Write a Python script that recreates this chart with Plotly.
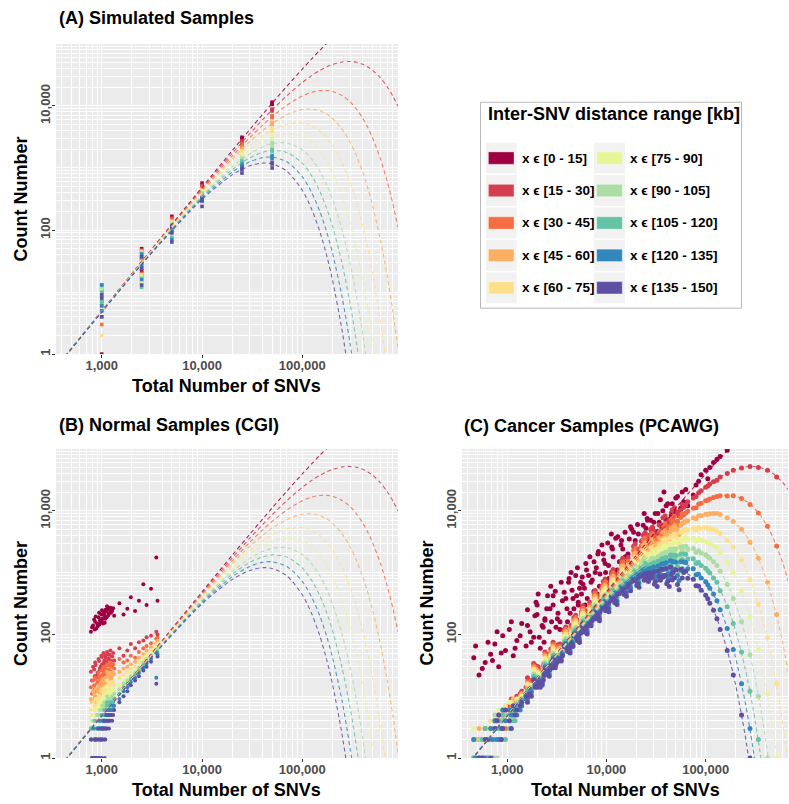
import plotly.graph_objects as go

# ---------------- data ----------------
range_labels = ["0 - 15", "15 - 30", "30 - 45", "45 - 60", "60 - 75",
                "75 - 90", "90 - 105", "105 - 120", "120 - 135", "135 - 150"]
colors = ["#9E0142", "#D53E4F", "#F46D43", "#FDAE61", "#FEE08B",
          "#E6F598", "#ABDDA4", "#66C2A5", "#3288BD", "#5E4FA2"]

x_tick_vals = [1000, 10000, 100000]
x_tick_text = ["1,000", "10,000", "100,000"]
y_tick_vals = [1, 100, 10000]
y_tick_text = ["1", "100", "10,000"]

# expected-count dashed curves
curve_snvs = [350, 1000, 3000, 10000, 20000, 30000, 40000, 50000, 70000, 100000,
              125000, 150000, 175000, 200000, 250000, 300000, 350000, 400000,
              450000, 500000, 600000, 700000, 800000, 900000]
curve_counts = [
    [0.612, 4.988, 44.66, 487.7, 1903.3, 4178.8, 7250.8, 11060, 20672, 39347, 58092, 79145,
     102049, 126424, 178374, None, None, None, None, None, None, None, None, None],
    [0.611, 4.963, 44.00, 463.9, 1722.2, 3596.7, 5936.4, 8613.5, 14567, 23865, 31095, 37386,
     42540, 46509, 51105, 52003, 50252, 46808, 42431, 37673, 28385, 20500, 14384, 9887],
    [0.610, 4.938, 43.34, 441.3, 1558.3, 3095.7, 4860.3, 6708.2, 10265, 14475, 16644, 17660,
     17734, 17110, 14642, 11604, 8732, 6335, 4472, 3092, 1413, 619.0, 263.5, 109.8],
    [0.609, 4.913, 42.70, 419.8, 1410.0, 2664.5, 3979.3, 5224.4, 7233.8, 8779.5, 8908.7, 8341.9,
     7392.4, 6294.3, 4194.9, 2589.1, 1517.5, 857.3, 471.4, 253.8, 70.36, 18.69, 4.826, 1.220],
    [0.608, 4.889, 42.06, 399.3, 1275.8, 2293.3, 3258.0, 4068.7, 5097.6, 5325.0, 4768.5, 3940.4,
     3081.6, 2315.5, 1201.9, 577.7, 263.7, 116.0, 49.68, 20.83, 3.503, 0.5644, 0.0884, None],
    [0.607, 4.864, 41.43, 379.8, 1154.4, 1973.9, 2667.4, 3168.7, 3592.2, 3229.8, 2552.4, 1861.3,
     1284.6, 851.8, 344.3, 128.9, 45.82, 15.70, 5.236, 1.710, 0.1744, 0.01704, None, None],
    [0.606, 4.840, 40.82, 361.3, 1044.6, 1698.9, 2183.9, 2467.8, 2531.4, 1959.0, 1366.2, 879.2,
     535.5, 313.4, 98.6, 28.76, 7.963, 2.125, 0.5519, 0.1404, 0.00868, None, None, None],
    [0.605, 4.816, 40.21, 343.7, 945.2, 1462.3, 1788.0, 1921.9, 1783.8, 1188.2, 731.3, 415.3,
     223.2, 115.3, 28.3, 6.42, 1.384, 0.2876, 0.0582, None, None, None, None, None],
    [0.604, 4.792, 39.61, 326.9, 855.2, 1258.6, 1463.9, 1496.8, 1257.1, 720.7, 391.4, 196.2,
     93.0, 42.4, 8.1, 1.432, 0.2405, 0.0389, None, None, None, None, None, None],
    [0.603, 4.768, 39.02, 311.0, 773.8, 1083.3, 1198.5, 1165.7, 885.8, 437.1, 209.5, 92.7,
     38.8, 15.6, 2.32, 0.320, 0.0418, None, None, None, None, None, None, None],
]

# (A) simulated samples
sim_snvs = [1000, 1000, 1000, 2500, 2500, 2500, 5000, 5000, 5000,
            10000, 10000, 10000, 25000, 25000, 25000, 50000, 50000, 50000]
sim_counts = [
    [1, 6, 11, 22, 35, 50, 110, 135, 166, 440, 500, 570, 2750, 2950, 3120, 10600, 11050, 11500],
    [4, 7, 13, 18, 30, 44, 105, 128, 155, 420, 465, 520, 2450, 2600, 2750, 8300, 8600, 8900],
    [3, 5, 10, 20, 33, 47, 98, 122, 148, 400, 440, 490, 2150, 2290, 2430, 6450, 6700, 6950],
    [5, 8, 12, 15, 28, 40, 95, 118, 140, 380, 420, 460, 1900, 2020, 2140, 5000, 5220, 5450],
    [2, 4, 9, 19, 31, 45, 90, 112, 135, 360, 400, 440, 1680, 1780, 1890, 3900, 4070, 4250],
    [4, 6, 11, 14, 26, 38, 85, 108, 130, 345, 380, 415, 1480, 1570, 1670, 3030, 3170, 3300],
    [5, 9, 12, 17, 29, 42, 80, 104, 125, 330, 360, 395, 1300, 1390, 1480, 2350, 2470, 2590],
    [4, 7, 10, 12, 25, 36, 75, 100, 120, 310, 345, 375, 1150, 1225, 1300, 1830, 1920, 2010],
    [5, 6, 13, 16, 27, 41, 70, 96, 116, 290, 325, 360, 1010, 1080, 1150, 1420, 1500, 1570],
    [4, 8, 9, 13, 24, 37, 64, 90, 112, 240, 300, 340, 830, 950, 1020, 1000, 1160, 1230],
]

# (B) normal samples: total SNVs and counts per distance range (one row per sample)
cgi_snvs = [780, 820, 860, 900, 930, 960, 990, 1010, 1040, 1060, 1090, 1120, 1150, 1180,
            1220, 1270, 1330, 880, 950, 1000, 1070, 1130,
            1500, 1650, 1800, 1950, 2150, 2350, 2600, 2800, 3100, 3500, 3600,
            800, 840, 870, 910, 940, 975, 1005, 1030, 1055, 1085, 1110, 1160, 1200, 1240,
            1300, 850]
cgi_counts = [
    [110, 25, 14, 9, 6, 4, 3, 3, 2, 2],
    [140, 30, 18, 12, 8, 5, 4, 2, 3, 1],
    [160, 35, 20, 10, 7, 6, 3, 4, 2, 2],
    [150, 22, 16, 13, 9, 5, 5, 3, 3, 1],
    [190, 40, 24, 15, 8, 7, 4, 4, 2, 3],
    [170, 28, 19, 11, 10, 6, 6, 3, 4, 2],
    [210, 45, 26, 17, 12, 8, 5, 5, 3, 2],
    [180, 33, 22, 14, 9, 7, 7, 4, 3, 3],
    [230, 50, 30, 19, 13, 9, 6, 5, 4, 2],
    [200, 38, 25, 16, 11, 10, 8, 6, 3, 4],
    [250, 42, 28, 20, 14, 8, 7, 5, 5, 3],
    [190, 36, 23, 18, 12, 11, 6, 7, 4, 3],
    [260, 48, 32, 22, 15, 10, 9, 6, 5, 4],
    [220, 40, 27, 19, 13, 12, 8, 7, 6, 3],
    [270, 55, 35, 24, 16, 11, 9, 8, 5, 5],
    [240, 44, 30, 21, 17, 13, 10, 7, 6, 4],
    [200, 38, 28, 23, 15, 12, 11, 9, 7, 6],
    [125, 20, 12, 8, 5, 4, 2, 2, 1, 1],
    [145, 26, 15, 10, 6, 3, 3, 2, 1, None],
    [165, 31, 17, 12, 7, 5, 4, 3, 2, 1],
    [155, 29, 21, 13, 10, 6, 5, 4, 2, 1],
    [285, 52, 33, 25, 18, 14, 10, 8, 6, 5],
    [320, 60, 40, 25, 20, 15, 13, 11, 9, 8],
    [210, 45, 35, 28, 22, 18, 16, 14, 12, 10],
    [260, 55, 38, 30, 25, 20, 18, 16, 14, 12],
    [400, 70, 45, 33, 28, 24, 21, 19, 17, 15],
    [240, 60, 42, 36, 30, 27, 24, 22, 20, 18],
    [350, 75, 52, 42, 36, 32, 29, 26, 24, 21],
    [650, 80, 60, 48, 43, 38, 35, 32, 29, 26],
    [300, 90, 65, 55, 48, 44, 40, 37, 34, 30],
    [550, 95, 72, 62, 56, 50, 46, 43, 40, 36],
    [1750, 110, 85, 72, 66, 60, 55, 50, 20, 16],
    [350, 100, 88, 78, 70, 64, 58, 52, 48, 44],
    [130, 18, 11, 8, 5, 3, 2, 2, 1, 1],
    [175, 27, 15, 11, 7, 5, 4, 3, 2, 1],
    [195, 32, 19, 13, 9, 6, 3, 2, 2, 2],
    [135, 24, 17, 12, 8, 6, 5, 3, 2, 2],
    [225, 37, 21, 14, 10, 7, 4, 4, 3, 1],
    [160, 30, 18, 12, 9, 8, 5, 3, 3, 2],
    [245, 43, 27, 18, 13, 9, 6, 5, 4, 2],
    [150, 27, 20, 15, 10, 7, 6, 4, 3, 3],
    [215, 35, 24, 17, 12, 9, 7, 5, 4, 3],
    [180, 46, 29, 19, 14, 10, 8, 6, 4, 2],
    [235, 33, 22, 16, 11, 9, 7, 5, 5, 3],
    [205, 41, 26, 20, 14, 11, 8, 6, 5, 4],
    [250, 47, 31, 21, 15, 12, 9, 7, 6, 4],
    [225, 37, 25, 19, 13, 11, 9, 8, 6, 5],
    [265, 50, 33, 24, 17, 13, 10, 8, 7, 5],
    [120, 21, 13, 9, 6, 4, 3, 2, 1, 1],
]

# (C) cancer samples (PCAWG): total SNVs and counts per distance range (aligned lists)
pcawg_snvs = [
    460, 520, 600, 680, 750, 820, 900, 960,
    1050, 1150, 1250, 1400, 1550, 1700, 1900, 2100, 2400, 2700,
    3200, 3600, 4000, 4500, 5000, 5500, 6000, 6600, 7200, 7900, 8600, 9400,
    3400, 4200, 5200, 6300, 7500, 8200,
    10500, 11500, 12500, 14000, 15500, 17000, 19000, 21000, 23000, 25000, 27500, 30000,
    11000, 13000, 16000, 18000, 22000, 26000,
    33000, 36000, 40000, 44000, 50000, 56000, 63000, 75000, 85000, 100000, 120000,
    38000, 47000, 60000,
    140000, 165000, 190000, 230000, 280000, 340000, 420000, 520000, 130000, 110000,
    480, 560, 640, 710, 790, 870, 1100, 1200, 1350, 1600, 2000, 2300, 2900,
    1850, 2000, 2150, 1950, 2250,
    2400, 2550, 2650, 2500, 2350,
    2900, 3100, 3050, 3250, 2800,
    3900, 4150, 4300, 3750, 4050,
    4900, 5200, 5350, 4700, 5100,
    5800, 6200, 6400, 5700, 6100,
    7700, 8300, 8500, 7500, 8100,
    9700, 10300, 10600, 9300, 10100,
    11700, 12400, 12800, 11300, 12100,
    14600, 15400, 15900, 14200, 15100,
    19500, 20600, 21300, 18800, 20200,
    24500, 25800, 26500, 23500, 25200,
    29000, 31000, 32500, 28000, 30500,
    39000, 41500, 43000, 37000, 40500,
    48500, 52000, 54000, 46000,
    1600, 1750, 2050, 2750, 3400, 3500, 4400, 4600, 5600, 6800, 7000, 9000, 9800, 11200,
    13500, 16500, 17500, 22500, 24000, 28500, 34000, 35000, 45000, 58000, 66000, 80000,
    90000, 105000,
]
pcawg_counts = [
    [42, 1, 2, None, 1, 3, None, 1, 2, None],
    [22, 2, 1, 3, 1, None, 2, 1, None, 1],
    [35, 3, 2, 1, 2, 1, None, 3, 1, 2],
    [48, 2, 3, 2, 4, 1, 2, None, 3, 1],
    [70, 4, 3, 2, 1, 3, 5, 2, 4, 3],
    [30, 3, 5, 4, 2, 6, 3, 4, 2, 5],
    [95, 5, 4, 6, 3, 4, 2, 5, 6, 3],
    [55, 6, 3, 5, 7, 4, 5, 2, 4, 6],
    [120, 7, 5, 6, 4, 8, 5, 3, 6, 4],
    [45, 8, 6, 9, 5, 7, 6, 4, 5, 7],
    [80, 10, 8, 7, 9, 6, 8, 7, 5, 6],
    [150, 12, 10, 11, 9, 10, 8, 9, 7, 8],
    [65, 14, 13, 12, 11, 12, 10, 11, 9, 10],
    [110, 18, 16, 15, 14, 13, 14, 12, 13, 11],
    [200, 22, 20, 18, 19, 17, 16, 15, 16, 14],
    [90, 26, 24, 22, 21, 23, 20, 19, 18, 17],
    [170, 33, 30, 29, 27, 28, 25, 24, 23, 22],
    [260, 42, 38, 36, 35, 33, 31, 30, 29, 27],
    [180, 55, 50, 48, 46, 44, 42, 40, 38, 36],
    [350, 68, 64, 60, 58, 55, 52, 50, 48, 45],
    [260, 85, 80, 76, 72, 70, 66, 63, 60, 56],
    [520, 108, 102, 96, 92, 88, 84, 80, 76, 71],
    [420, 130, 124, 118, 112, 106, 101, 96, 91, 86],
    [700, 160, 150, 142, 136, 128, 122, 115, 110, 104],
    [560, 188, 178, 168, 160, 152, 144, 137, 130, 122],
    [900, 225, 212, 202, 190, 180, 170, 161, 152, 144],
    [760, 265, 250, 236, 224, 212, 200, 188, 178, 168],
    [1200, 318, 300, 282, 266, 250, 236, 222, 210, 197],
    [950, 375, 352, 332, 312, 293, 276, 259, 244, 229],
    [1600, 440, 412, 388, 362, 340, 318, 298, 280, 262],
    [120, 60, 58, 52, 50, 49, 45, 46, 41, 40],
    [800, 95, 86, 84, 78, 74, 72, 66, 64, 60],
    [300, 145, 132, 128, 118, 116, 106, 104, 96, 92],
    [1100, 210, 196, 186, 176, 166, 158, 148, 140, 132],
    [500, 290, 270, 256, 240, 230, 214, 204, 190, 180],
    [2000, 345, 326, 306, 290, 272, 256, 240, 226, 214],
    [1300, 505, 478, 455, 430, 408, 386, 365, 345, 320],
    [2400, 600, 565, 535, 505, 478, 450, 425, 400, 370],
    [1000, 715, 670, 632, 594, 560, 526, 495, 465, 430],
    [2800, 880, 825, 770, 725, 678, 635, 595, 556, 510],
    [1800, 1060, 985, 915, 850, 790, 732, 680, 630, 575],
    [3500, 1260, 1160, 1075, 995, 920, 850, 785, 725, 660],
    [2600, 1560, 1430, 1310, 1200, 1100, 1010, 925, 845, 760],
    [4200, 1880, 1710, 1550, 1405, 1275, 1160, 1050, 950, 840],
    [3300, 2230, 2000, 1800, 1615, 1450, 1305, 1170, 1050, 920],
    [5200, 2600, 2300, 2020, 1780, 1570, 1380, 1210, 1060, 900],
    [4000, 3080, 2680, 2330, 2030, 1770, 1540, 1340, 1160, 980],
    [6500, 3550, 3060, 2640, 2270, 1950, 1680, 1440, 1230, 1020],
    [700, 540, 515, 488, 462, 440, 415, 395, 372, 350],
    [3800, 760, 712, 672, 630, 592, 555, 520, 490, 455],
    [1500, 1120, 1040, 965, 895, 830, 770, 712, 660, 600],
    [5000, 1400, 1290, 1190, 1095, 1010, 930, 855, 785, 715],
    [2000, 2050, 1860, 1690, 1530, 1385, 1255, 1135, 1025, 925],
    [7000, 2800, 2470, 2170, 1910, 1680, 1470, 1290, 1130, 980],
    [9000, 4200, 3550, 3000, 2530, 2140, 1800, 1520, 1280, 1050],
    [5500, 4900, 4100, 3420, 2860, 2380, 1990, 1660, 1380, 1140],
    [12000, 5800, 4750, 3900, 3200, 2620, 2150, 1760, 1440, 1150],
    [7500, 6900, 5600, 4520, 3650, 2950, 2380, 1920, 1550, 1230],
    [16000, 8400, 6600, 5150, 4000, 3120, 2430, 1890, 1470, 1100],
    [11000, 10200, 7800, 5900, 4500, 3420, 2600, 1970, 1490, 1120],
    [22000, 12400, 9200, 6800, 5000, 3680, 2700, 1980, 1450, 1050],
    [18000, 16000, 11000, 7600, 5200, 3600, 2450, 1680, 1150, 780],
    [30000, 19500, 12800, 8300, 5400, 3500, 2260, 1460, 940, 600],
    [45000, 24000, 14500, 8800, 5300, 3200, 1950, 1180, 710, 430],
    [60000, 29500, 16300, 9000, 4950, 2720, 1490, 820, 450, 245],
    [20000, 5300, 4400, 3650, 3000, 2500, 2050, 1700, 1400, 900],
    [9500, 7700, 6100, 4850, 3850, 3050, 2400, 1900, 1500, 1000],
    [14000, 11300, 8500, 6400, 4800, 3600, 2650, 2000, 1480, 1000],
    [75000, 35000, 17500, 8700, 4300, 2100, 1050, 510, 250, 120],
    [95000, 40000, 17300, 7600, 3300, 1450, 640, 280, 125, 55],
    [None, 45000, 17500, 6700, 2600, 1000, 380, 150, 57, 22],
    [None, 49000, 15800, 5000, 1600, 510, 160, 52, 16, 5],
    [None, 52000, 12600, 3100, 760, 190, 47, 12, 3, 1],
    [None, 50000, 9200, 1700, 310, 57, 10, 2, None, None],
    [None, 45000, 5600, 700, 88, 11, 1, None, None, None],
    [None, 35000, 2700, 210, 16, 1, None, None, None, None],
    [68000, 31000, 17000, 9000, 4700, 2500, 1300, 700, 350, 180],
    [50000, 27000, 15500, 8900, 5100, 2950, 1700, 980, 560, 320],
    [65, None, 1, 2, None, 1, None, None, 1, None],
    [28, 1, None, 1, 2, None, 1, 2, None, 1],
    [75, 2, 1, 1, 3, 2, 1, 1, None, 2],
    [38, 3, 2, 1, 2, 2, 3, 1, 2, None],
    [110, 2, 4, 3, 3, 2, 1, 3, 2, 4],
    [50, 4, 2, 5, 3, 6, 4, 2, 3, 2],
    [160, 9, 7, 5, 8, 6, 4, 6, 5, 3],
    [60, 8, 9, 6, 7, 5, 7, 4, 6, 5],
    [95, 11, 9, 10, 8, 9, 7, 8, 6, 7],
    [140, 16, 14, 13, 12, 11, 12, 10, 9, 8],
    [300, 26, 22, 21, 19, 18, 17, 16, 15, 14],
    [130, 30, 28, 26, 24, 23, 21, 20, 19, 18],
    [420, 48, 44, 41, 39, 37, 35, 33, 31, 29],
    # ~2,000
    [90, 34, 31, 29, 27, 25, 23, 21, 19, 18],
    [210, 28, 26, 22, 24, 21, 19, 18, 16, 15],
    [60, 24, 22, 21, 20, 18, 17, 16, 15, 14],
    [330, 31, 29, 27, 25, 23, 21, 20, 18, 17],
    [140, 26, 21, 24, 19, 20, 17, 18, 15, 16],
    # ~2,500
    [180, 52, 48, 45, 41, 38, 35, 33, 30, 28],
    [420, 43, 40, 37, 35, 32, 30, 28, 26, 24],
    [110, 37, 35, 32, 30, 28, 27, 25, 23, 21],
    [260, 48, 44, 41, 38, 36, 33, 31, 28, 26],
    [75, 34, 32, 31, 29, 28, 26, 25, 23, 22],
    # ~3,000
    [300, 75, 69, 64, 59, 54, 50, 46, 42, 39],
    [130, 62, 57, 53, 49, 45, 42, 39, 36, 33],
    [500, 53, 49, 46, 42, 39, 36, 34, 31, 29],
    [220, 68, 63, 58, 54, 50, 46, 43, 40, 37],
    [160, 48, 45, 43, 41, 39, 37, 35, 33, 31],
    # ~4,000
    [380, 132, 121, 111, 102, 93, 86, 79, 72, 66],
    [700, 109, 100, 92, 85, 78, 72, 66, 61, 56],
    [220, 93, 86, 80, 74, 68, 63, 58, 54, 50],
    [480, 120, 111, 102, 94, 87, 80, 74, 68, 63],
    [160, 85, 80, 76, 71, 67, 63, 60, 56, 53],
    # ~5,000
    [900, 205, 187, 171, 156, 142, 130, 119, 108, 99],
    [330, 169, 155, 142, 130, 119, 109, 100, 92, 84],
    [560, 144, 133, 122, 112, 103, 95, 87, 80, 74],
    [260, 187, 172, 158, 145, 133, 122, 112, 102, 94],
    [1200, 132, 124, 116, 109, 102, 96, 90, 84, 79],
    # ~6,000
    [650, 292, 265, 241, 219, 199, 181, 165, 150, 136],
    [1400, 241, 220, 200, 183, 167, 152, 139, 126, 115],
    [380, 206, 189, 173, 158, 145, 133, 122, 111, 102],
    [850, 267, 244, 222, 203, 185, 169, 155, 141, 129],
    [300, 189, 176, 164, 153, 143, 133, 124, 116, 108],
    # ~8,000
    [1000, 512, 461, 415, 373, 336, 302, 272, 245, 221],
    [2200, 421, 381, 344, 311, 281, 254, 230, 208, 188],
    [600, 361, 327, 297, 269, 244, 222, 201, 182, 166],
    [1500, 467, 422, 382, 346, 313, 283, 256, 232, 210],
    [450, 331, 306, 283, 262, 242, 224, 207, 192, 177],
    # ~10,000
    [1400, 789, 702, 625, 556, 495, 441, 392, 349, 311],
    [3000, 650, 581, 520, 465, 415, 371, 332, 297, 264],
    [800, 557, 500, 448, 402, 361, 324, 290, 260, 233],
    [2000, 719, 644, 576, 515, 461, 413, 369, 331, 295],
    [600, 510, 466, 426, 390, 356, 326, 298, 272, 249],
    # ~12,000
    [1800, 1119, 987, 870, 768, 677, 597, 527, 465, 407],
    [3600, 921, 815, 721, 638, 565, 500, 442, 391, 346],
    [1100, 790, 701, 623, 553, 491, 436, 387, 344, 305],
    [2600, 1020, 904, 801, 709, 628, 557, 493, 437, 387],
    [850, 724, 655, 593, 537, 486, 440, 398, 360, 326],
    # ~15,000
    [2400, 1710, 1484, 1288, 1118, 971, 843, 731, 635, 552],
    [4500, 1408, 1228, 1071, 934, 814, 710, 619, 540, 469],
    [1300, 1207, 1056, 924, 809, 708, 619, 542, 474, 414],
    [3300, 1559, 1361, 1188, 1037, 905, 790, 690, 602, 524],
    [1100, 1107, 987, 881, 786, 701, 625, 557, 497, 442],
    # ~20,000
    [3300, 2927, 2479, 2100, 1779, 1507, 1276, 1081, 915, 774],
    [6000, 2411, 2049, 1742, 1481, 1259, 1070, 909, 773, 658],
    [1900, 2066, 1762, 1503, 1282, 1094, 933, 796, 679, 581],
    [4500, 2669, 2271, 1933, 1645, 1400, 1191, 1014, 863, 735],
    [1700, 1894, 1648, 1434, 1247, 1085, 944, 821, 714, 619],
    # ~25,000
    [4300, 4406, 3639, 3006, 2483, 2051, 1694, 1399, 1156, 954],
    [7500, 3629, 3008, 2494, 2067, 1714, 1421, 1178, 976, 811],
    [2300, 3110, 2588, 2153, 1791, 1490, 1240, 1032, 858, 716],
    [5800, 4018, 3335, 2768, 2297, 1907, 1583, 1314, 1090, 906],
    [3000, 2851, 2418, 2050, 1739, 1474, 1250, 1060, 899, 763],
    # ~30,000
    [5300, 5396, 4295, 3419, 2722, 2167, 1725, 1373, 1093, 866],
    [9000, 4676, 3689, 2911, 2297, 1812, 1430, 1128, 890, 704],
    [3000, 4137, 3248, 2549, 2001, 1571, 1233, 968, 760, 596],
    [7000, 5036, 4009, 3191, 2540, 2022, 1610, 1281, 1020, 812],
    [4000, 3777, 3033, 2435, 1955, 1570, 1261, 1012, 813, 650],
    # ~40,000
    [7500, 8310, 6291, 4762, 3605, 2729, 2066, 1564, 1184, 896],
    [13000, 7123, 5349, 4017, 3017, 2266, 1702, 1278, 960, 721],
    [4500, 6233, 4650, 3469, 2588, 1931, 1440, 1074, 801, 598],
    [10000, 7717, 5850, 4434, 3361, 2548, 1931, 1464, 1110, 841],
    [6000, 5639, 4314, 3300, 2525, 1931, 1477, 1130, 865, 662],
    # ~50,000
    [10000, 11198, 8074, 5821, 4197, 3026, 2182, 1573, 1134, 818],
    [17000, 9475, 6765, 4830, 3449, 2462, 1758, 1255, 896, 640],
    [6000, 8183, 5810, 4125, 2929, 2079, 1476, 1048, 744, 528],
    [13000, 10337, 7453, 5374, 3874, 2793, 2014, 1452, 1047, 755],
    # further samples across the range
    [250, 20, 17, 15, 16, 13, 12, 13, 11, 10],
    [75, 15, 18, 14, 13, 15, 12, 11, 12, 10],
    [450, 30, 26, 25, 22, 21, 20, 18, 17, 16],
    [600, 58, 52, 48, 45, 42, 39, 36, 33, 31],
    [160, 70, 64, 60, 55, 51, 48, 44, 41, 38],
    [700, 56, 53, 50, 47, 45, 43, 41, 39, 37],
    [1000, 140, 128, 117, 108, 99, 91, 84, 77, 70],
    [380, 100, 94, 89, 84, 80, 76, 72, 68, 64],
    [450, 230, 210, 192, 176, 161, 147, 135, 124, 113],
    [1800, 330, 300, 273, 248, 226, 206, 188, 171, 156],
    [700, 250, 232, 215, 200, 186, 173, 160, 149, 138],
    [2800, 600, 540, 486, 437, 393, 354, 318, 286, 258],
    [1000, 420, 392, 366, 342, 319, 298, 278, 260, 242],
    [4200, 950, 845, 752, 669, 595, 530, 471, 419, 373],
    [1500, 1100, 985, 882, 790, 707, 633, 567, 508, 455],
    [2000, 1750, 1530, 1338, 1170, 1023, 895, 782, 684, 598],
    [5500, 1300, 1155, 1027, 913, 812, 722, 642, 571, 508],
    [2700, 3200, 2720, 2312, 1965, 1670, 1420, 1207, 1026, 872],
    [9000, 2500, 2150, 1850, 1590, 1370, 1180, 1015, 873, 751],
    [3800, 4600, 3750, 3060, 2495, 2035, 1660, 1354, 1104, 900],
    [6500, 5900, 4650, 3660, 2885, 2273, 1790, 1411, 1112, 876],
    [15000, 4500, 3600, 2880, 2300, 1840, 1472, 1178, 942, 753],
    [8500, 9200, 6900, 5180, 3880, 2910, 2180, 1640, 1230, 920],
    [20000, 12500, 8900, 6330, 4500, 3200, 2280, 1620, 1150, 820],
    [12000, 14000, 9800, 6860, 4800, 3360, 2350, 1650, 1150, 810],
    [26000, 17000, 11200, 7390, 4880, 3220, 2120, 1400, 925, 610],
    [38000, 21000, 13200, 8300, 5230, 3290, 2070, 1300, 820, 516],
    [33000, 25000, 14800, 8750, 5180, 3070, 1815, 1075, 636, 376],
]

# ---------------- figure ----------------
W, H = 789, 804
FONT = "Liberation Sans, Arial, Helvetica, sans-serif"


def fx(p):
    return p / W


def fy(p):
    return 1 - p / H


panels = [
    dict(key="", xdom=(56, 398), ydom=(44, 355), xr=[2.544, 5.954]),
    dict(key="2", xdom=(56, 398), ydom=(450, 760), xr=[2.544, 5.954]),
    dict(key="3", xdom=(462, 788), ydom=(450, 760), xr=[2.544, 5.83]),
]

fig = go.Figure()

datasets = [
    (sim_snvs, sim_counts, "square", 3.6),
    (cgi_snvs, [[row[k] for row in cgi_counts] for k in range(10)], "circle", 4.0),
    (pcawg_snvs, [[row[k] for row in pcawg_counts] for k in range(10)], "circle", 5.0),
]

for p, (xs, ys_all, sym, msize) in zip(panels, datasets):
    xa = "x" + p["key"]
    ya = "y" + p["key"]
    for k in range(10):
        fig.add_trace(go.Scatter(
            x=xs, y=ys_all[k], mode="markers", xaxis=xa, yaxis=ya,
            marker=dict(color=colors[k], size=msize, symbol=sym, line=dict(width=0)),
            showlegend=False, hoverinfo="skip"))
    for k in range(10):
        fig.add_trace(go.Scatter(
            x=curve_snvs, y=curve_counts[k], mode="lines", xaxis=xa, yaxis=ya,
            line=dict(color=colors[k], width=1.1, dash="4px,3px", shape="spline", smoothing=0.8),
            opacity=0.85, showlegend=False, hoverinfo="skip", connectgaps=False))

tickfont = dict(family=FONT, size=13, color="#4D4D4D", weight="bold")
layout_axes = {}
for p in panels:
    xname = "xaxis" + p["key"]
    yname = "yaxis" + p["key"]
    layout_axes[xname] = dict(
        type="log", domain=[fx(p["xdom"][0]), fx(p["xdom"][1])], range=p["xr"],
        anchor="y" + p["key"], tickvals=x_tick_vals, ticktext=x_tick_text,
        ticks="outside", ticklen=3, tickcolor="#333333", tickwidth=1,
        showline=False, zeroline=False, gridcolor="white", gridwidth=1.1,
        tickfont=tickfont, ticklabelstandoff=-4,
        minor=dict(dtick="D1", showgrid=True, gridcolor="white", gridwidth=0.5, ticks=""))
    layout_axes[yname] = dict(
        type="log", domain=[fy(p["ydom"][1]), fy(p["ydom"][0])], range=[0, 5],
        anchor="x" + p["key"], tickvals=y_tick_vals, ticktext=y_tick_text, tickangle=-90,
        ticks="outside", ticklen=3, tickcolor="#333333", tickwidth=1,
        showline=False, zeroline=False, gridcolor="white", gridwidth=1.1,
        tickfont=tickfont, ticklabelstandoff=-3,
        minor=dict(dtick="D1", showgrid=True, gridcolor="white", gridwidth=0.5, ticks=""))

annotations = []
shapes = []

# panel titles
for text, x, y in [("(A) Simulated Samples", 57, 18),
                   ("(B) Normal Samples (CGI)", 57, 426),
                   ("(C) Cancer Samples (PCAWG)", 462, 427)]:
    annotations.append(dict(text=text, x=fx(x), y=fy(y), xref="paper", yref="paper",
                            xanchor="left", yanchor="middle", showarrow=False,
                            font=dict(family=FONT, size=18, color="black", weight="bold")))
# axis titles
for x, y in [(227, 387), (227, 792), (625, 792)]:
    annotations.append(dict(text="Total Number of SNVs", x=fx(x), y=fy(y), xref="paper",
                            yref="paper", xanchor="center", yanchor="middle", showarrow=False,
                            font=dict(family=FONT, size=18, color="black", weight="bold")))
for x, y in [(21.5, 199.5), (21.5, 605), (427, 605)]:
    annotations.append(dict(text="Count Number", x=fx(x), y=fy(y), xref="paper",
                            yref="paper", xanchor="center", yanchor="middle", showarrow=False,
                            textangle=-90,
                            font=dict(family=FONT, size=18, color="black", weight="bold")))

# legend box
shapes.append(dict(type="rect", xref="paper", yref="paper", x0=fx(480.5), x1=fx(741.5),
                   y0=fy(309), y1=fy(102.5), line=dict(color="#B8B8B8", width=1),
                   fillcolor="white", layer="above"))
annotations.append(dict(text="Inter-SNV distance range [kb]", x=fx(485.5), y=fy(114),
                        xref="paper", yref="paper", xanchor="left", yanchor="middle",
                        showarrow=False,
                        font=dict(family=FONT, size=18, color="black", weight="bold")))
row_centers = [158.5, 191, 223.5, 256, 288.5]
col_key_left = [485.7, 594.0]
col_text_left = [519.5, 628.0]
for k in range(10):
    col = k // 5
    row = k % 5
    cy = row_centers[row]
    kx0 = col_key_left[col]
    shapes.append(dict(type="rect", xref="paper", yref="paper", x0=fx(kx0), x1=fx(kx0 + 31),
                       y0=fy(cy + 15.5), y1=fy(cy - 15.5), line=dict(width=0),
                       fillcolor="#F2F2F2", layer="above"))
    shapes.append(dict(type="rect", xref="paper", yref="paper", x0=fx(kx0 + 2.7),
                       x1=fx(kx0 + 28.3), y0=fy(cy + 6.2), y1=fy(cy - 6.2),
                       line=dict(width=0.6, color="rgba(255,255,255,0.6)"),
                       fillcolor=colors[k], layer="above"))
    annotations.append(dict(text="x \u03f5 [" + range_labels[k] + "]", x=fx(col_text_left[col]),
                            y=fy(cy), xref="paper", yref="paper", xanchor="left",
                            yanchor="middle", showarrow=False,
                            font=dict(family=FONT, size=13.5, color="black", weight="bold")))

fig.update_layout(
    width=W, height=H, autosize=False,
    margin=dict(l=0, r=0, t=0, b=0),
    paper_bgcolor="white", plot_bgcolor="#EBEBEB",
    showlegend=False,
    annotations=annotations, shapes=shapes,
    **layout_axes)

fig.write_html("out.html", config={"displayModeBar": False},
               post_script="document.body.style.margin='0';document.body.style.overflow='hidden';")
